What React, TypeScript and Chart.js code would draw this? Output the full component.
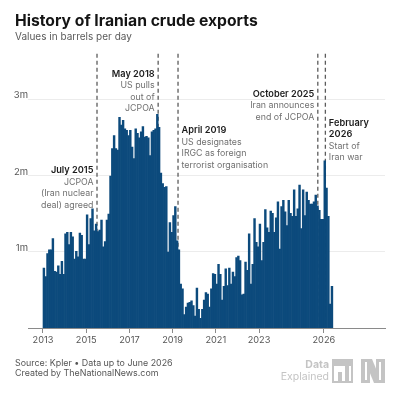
import { useEffect, useRef } from "react"
import { Chart, registerables } from "chart.js"

Chart.register(...registerables)

const FONT = "Inter, sans-serif"
const BAR_COLOR = "#0c4a7c"
const MUTED = "#707070"
const DARK = "#1c1c1c"
const LOGO = "#c4c4c4"

const startYear = 2013

// Monthly exports in millions of barrels per day, Jan 2013 to May 2026
const exports2013 = [0.79, 0.68, 0.98, 1.03, 1.03, 1.18, 0.75, 0.74, 0.82, 0.71, 0.88, 0.71]
const exports2014 = [1.24, 1.26, 1.1, 1.26, 1.2, 0.91, 1.01, 0.94, 1.25, 1.22, 0.91, 0.91]
const exports2015 = [1.49, 1.1, 1.44, 1.57, 1.28, 1.37, 1.27, 1.29, 1.42, 1.07, 1.14, 1.42]
const exports2016 = [1.5, 2.0, 2.36, 2.53, 2.36, 2.34, 2.77, 2.67, 2.73, 2.62, 2.6, 2.53]
const exports2017 = [2.6, 2.38, 2.23, 2.62, 2.56, 2.5, 2.58, 2.65, 2.51, 2.52, 2.5, 2.27]
const exports2018 = [2.58, 2.6, 2.62, 2.81, 2.64, 2.04, 1.9, 1.85, 1.86, 1.0, 1.39, 1.26]
const exports2019 = [1.48, 1.6, 1.15, 1.03, 0.58, 0.52, 0.18, 0.28, 0.33, 0.34, 0.36, 0.3]
const exports2020 = [0.16, 0.53, 0.25, 0.13, 0.25, 0.37, 0.47, 0.45, 0.28, 0.52, 0.72, 0.71]
const exports2021 = [0.58, 0.84, 0.71, 0.37, 0.55, 0.78, 0.56, 0.79, 0.58, 0.74, 0.68, 0.93]
const exports2022 = [0.95, 0.89, 0.44, 0.45, 0.87, 0.76, 1.24, 0.58, 0.84, 1.44, 1.13, 1.07]
const exports2023 = [1.37, 0.89, 1.13, 1.56, 1.32, 1.26, 1.54, 1.51, 1.26, 1.45, 1.66, 1.04]
const exports2024 = [1.6, 1.68, 1.53, 1.35, 1.68, 1.51, 1.47, 1.82, 1.47, 1.57, 1.88, 1.31]
const exports2025 = [1.82, 1.48, 1.79, 1.68, 1.63, 1.63, 1.66, 1.75, 1.61, 1.55, 1.43, 1.43]
const exports2026 = [2.2, 1.84, 1.47, 0.32, 0.55]

const monthlyExports = [
  ...exports2013, ...exports2014, ...exports2015, ...exports2016, ...exports2017,
  ...exports2018, ...exports2019, ...exports2020, ...exports2021, ...exports2022,
  ...exports2023, ...exports2024, ...exports2025, ...exports2026,
]

const xTickYears = [2013, 2015, 2017, 2019, 2021, 2023, 2026]
const yTickValues = [1, 2, 3]

// Dates of the dashed event lines, as decimal years
const eventDates = [2015.5, 2018.33, 2019.25, 2025.72, 2026.07]

const eventNotes = [
  { at: 2015.5, side: "left", top: 170.5, bold: ["July 2015"], text: ["JCPOA", "(Iran nuclear", "deal) agreed"] },
  { at: 2018.33, side: "left", top: 74, bold: ["May 2018"], text: ["US pulls", "out of", "JCPOA"] },
  { at: 2019.25, side: "right", top: 130.5, bold: ["April 2019"], text: ["US designates", "IRGC as foreign", "terrorist organisation"] },
  { at: 2025.72, side: "left", top: 94, bold: ["October 2025"], text: ["Iran announces", "end of JCPOA"] },
  { at: 2026.07, side: "right", top: 123, bold: ["February", "2026"], text: ["Start of", "Iran war"] },
]

const footerLines = ["Source: Kpler • Data up to June 2026", "Created by TheNationalNews.com"]

const annotationPlugin = {
  id: "annotations",
  afterLayout(chart: any) {
    // tick labels are clipped to the scale box, give them room over the left padding
    chart.scales.y.left = 8
  },
  beforeDatasetsDraw(chart: any) {
    const { ctx, scales, chartArea } = chart
    ctx.save()
    ctx.strokeStyle = "#5c5c5c"
    ctx.lineWidth = 1.3
    ctx.setLineDash([4, 3])
    eventDates.forEach((d) => {
      const x = scales.x.getPixelForValue(d)
      ctx.beginPath()
      ctx.moveTo(x, chartArea.top)
      ctx.lineTo(x, chartArea.bottom)
      ctx.stroke()
    })
    ctx.restore()
  },
  afterDraw(chart: any) {
    const { ctx, scales } = chart
    ctx.save()
    ctx.textBaseline = "middle"

    eventNotes.forEach((note) => {
      const x = scales.x.getPixelForValue(note.at)
      const left = note.side === "left"
      ctx.textAlign = left ? "right" : "left"
      const tx = left ? x - 3.5 : x + 3.5
      let y = note.top
      note.bold.forEach((line) => {
        ctx.font = `600 9.2px ${FONT}`
        ctx.fillStyle = DARK
        ctx.fillText(line, tx, y)
        y += 11.5
      })
      note.text.forEach((line) => {
        ctx.font = `400 8.8px ${FONT}`
        ctx.fillStyle = MUTED
        ctx.fillText(line, tx, y)
        y += 11.5
      })
    })

    // source lines
    ctx.textAlign = "left"
    ctx.font = `400 8.9px ${FONT}`
    ctx.fillStyle = "#555555"
    footerLines.forEach((line, i) => ctx.fillText(line, 15, 363 + i * 10))

    // Data Explained + National logo
    ctx.textAlign = "right"
    ctx.fillStyle = LOGO
    ctx.font = `700 10.5px ${FONT}`
    ctx.fillText("Data", 329, 365)
    ctx.font = `400 10.5px ${FONT}`
    ctx.fillText("Explained", 329, 377)

    ctx.fillRect(332, 359, 21, 7)
    ctx.fillRect(332, 366, 2, 17)
    ctx.fillRect(351, 366, 2, 17)
    ctx.fillRect(332, 381, 21, 2)
    ctx.fillRect(338, 372, 4, 9)
    ctx.fillRect(345, 364, 4, 17)

    ctx.fillRect(361, 359, 4, 24)
    ctx.fillRect(361, 359, 7, 3)
    ctx.fillRect(361, 380, 7, 3)
    ctx.fillRect(381, 359, 4, 24)
    ctx.fillRect(378, 359, 7, 3)
    ctx.fillRect(378, 380, 7, 3)
    ctx.beginPath()
    ctx.moveTo(367, 359)
    ctx.lineTo(372, 359)
    ctx.lineTo(379, 376)
    ctx.lineTo(379, 383)
    ctx.lineTo(374, 383)
    ctx.lineTo(367, 366)
    ctx.closePath()
    ctx.fill()
    ctx.fillRect(367, 366, 3, 17)
    ctx.fillRect(376, 359, 3, 17)
    ctx.restore()
  },
}

export default function App() {
  const chartRef = useRef<HTMLCanvasElement>(null)
  const chartInstance = useRef<Chart | null>(null)

  useEffect(() => {
    if (!chartRef.current) return
    document.body.style.margin = "0"

    const ctx = chartRef.current.getContext("2d")
    if (!ctx) return

    const chartConfig: any = {
      type: "bar",
      data: {
        datasets: [
          {
            label: "Iranian crude exports",
            data: monthlyExports.map((v, i) => ({ x: startYear + (i + 0.5) / 12, y: v })),
            backgroundColor: BAR_COLOR,
            borderWidth: 0,
            barPercentage: 1.35,
            categoryPercentage: 1,
          },
        ],
      },
      options: {
        responsive: false,
        animation: false,
        layout: { padding: { top: 12, left: 15, right: 15, bottom: 54 } },
        plugins: {
          legend: { display: false },
          tooltip: { enabled: false },
          title: {
            display: true,
            text: "History of Iranian crude exports",
            align: "start",
            color: "#141414",
            font: { family: FONT, size: 15.7, weight: "700" },
            padding: 0,
          },
          subtitle: {
            display: true,
            text: "Values in barrels per day",
            align: "start",
            color: "#5a5a5a",
            font: { family: FONT, size: 10, weight: "400" },
            padding: { top: 0, bottom: 11 },
          },
        },
        scales: {
          x: {
            type: "linear",
            offset: false,
            min: 2012.306,
            max: 2028.83,
            afterBuildTicks: (scale: any) => {
              scale.ticks = xTickYears.map((value) => ({ value }))
            },
            afterFit: (scale: any) => {
              scale.height = 18
            },
            border: { color: "#8a8a8a", width: 1 },
            grid: { offset: false, drawOnChartArea: false, drawTicks: true, tickLength: 5, tickColor: "#8a8a8a" },
            ticks: {
              autoSkip: false,
              maxRotation: 0,
              padding: 2,
              color: "#555555",
              font: { family: FONT, size: 9.2 },
              callback: (v: number) => String(v),
            },
          },
          y: {
            min: 0,
            max: 3.6,
            afterBuildTicks: (scale: any) => {
              scale.ticks = yTickValues.map((value) => ({ value }))
            },
            afterFit: (scale: any) => {
              scale.width = 13
            },
            border: { display: false },
            grid: { color: "#ececec", drawTicks: false },
            ticks: {
              padding: 0,
              labelOffset: -4,
              color: "#555555",
              font: { family: FONT, size: 9.5 },
              callback: (v: number) => `${v}m`,
            },
          },
        },
      },
      plugins: [annotationPlugin],
    }

    chartInstance.current = new Chart(ctx, chartConfig)

    return () => {
      if (chartInstance.current) {
        chartInstance.current.destroy()
      }
    }
  }, [])

  return (
    <div style={{ width: 400, height: 400, background: "#fff" }}>
      <canvas ref={chartRef} width={400} height={400} />
    </div>
  )
}
